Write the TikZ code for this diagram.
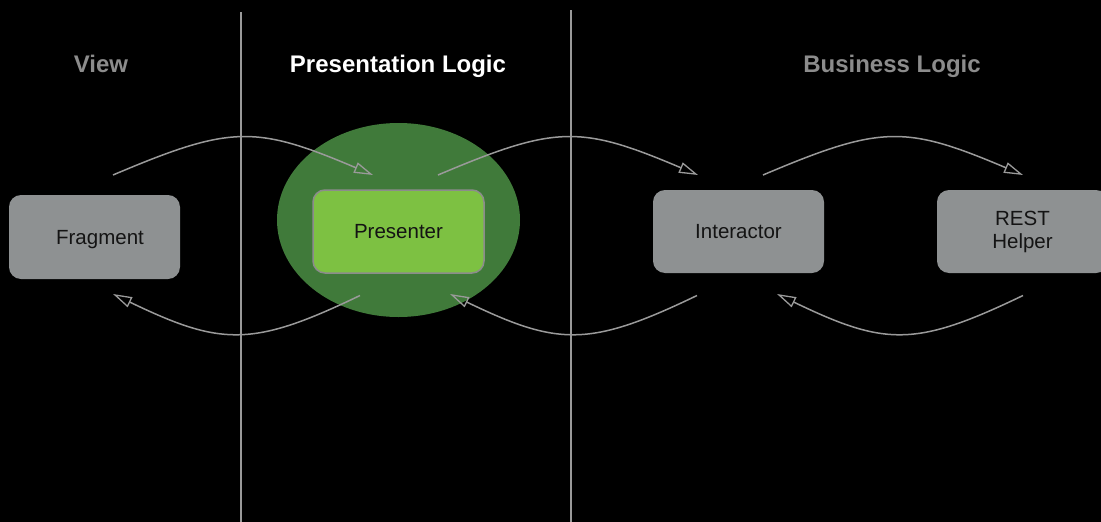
\documentclass[tikz,border=0pt]{standalone}
\usepackage{fontspec}
\setmainfont{Liberation Sans}
\usetikzlibrary{arrows.meta,shapes.geometric}
\definecolor{boxgray}{HTML}{8E9192}
\definecolor{linegray}{HTML}{9A9A9A}
\definecolor{headgray}{HTML}{8C8C8C}
\definecolor{darkgreen}{HTML}{407A3A}
\definecolor{lightgreen}{HTML}{7DC142}
\definecolor{textdark}{HTML}{141414}
\begin{document}
\begin{tikzpicture}[x=1pt,y=-1pt,
  box/.style={rectangle, rounded corners=12pt, fill=boxgray, minimum width=171pt, minimum height=84pt, inner sep=0pt, text=textdark, font=\fontsize{20.5}{23.3}\selectfont, align=center, text height=14.7pt, text depth=0pt},
  heading/.style={font=\fontsize{24}{28}\selectfont\bfseries, inner sep=0pt, anchor=base},
  divider/.style={draw=linegray, line width=1.4pt},
  flow/.style={draw=linegray, line width=1.5pt, -{Triangle[open, length=19pt, width=11pt, line width=1.3pt]}}]
\useasboundingbox (0,0) rectangle (1101,522);
\clip (0,0) rectangle (1101,522);
\fill[black] (0,0) rectangle (1101,522);
% dividers
\coordinate (d1t) at (241,12);
\coordinate (d1b) at (241,522);
\coordinate (d2t) at (571,10);
\coordinate (d2b) at (571,522);
\draw[divider] (d1t) -- (d1b);
\draw[divider] (d2t) -- (d2b);
% headings
\node[heading, text=headgray] (hview) at (101,72.5) {View};
\node[heading, text=white] (hpres) at (398,72.5) {Presentation Logic};
\node[heading, text=headgray] (hbus) at (892,72.5) {Business Logic};
% ellipse
\node[ellipse, fill=darkgreen, minimum width=243pt, minimum height=194pt, inner sep=0pt] (ell) at (398.5,220) {};
% boxes
\node[box] (frag) at (94.5,237) {\hspace{11pt}Fragment};
\node[box, fill=lightgreen, draw=headgray, line width=1.5pt, minimum height=83pt] (pres) at (398.5,231.5) {Presenter};
\node[box, minimum height=83pt] (inter) at (738.5,231.5) {Interactor};
\node[box, minimum height=83pt, text height=33.6pt] (rest) at (1022.5,231.5) {REST\\Helper};
% arrow end points
\coordinate (a1s) at (113,175);
\coordinate (a1e) at (373,175);
\coordinate (a2s) at (438,175);
\coordinate (a2e) at (698,175);
\coordinate (a3s) at (763,175);
\coordinate (a3e) at (1023,175);
\coordinate (b1s) at (360,295.5);
\coordinate (b1e) at (113,294);
\coordinate (b2s) at (697,295.5);
\coordinate (b2e) at (450,294);
\coordinate (b3s) at (1023,295.5);
\coordinate (b3e) at (777,294);
% top arrows
\draw[flow] (a1s) .. controls +(118,-50) and +(-118,-50) .. (a1e);
\draw[flow] (a2s) .. controls +(118,-50) and +(-118,-50) .. (a2e);
\draw[flow] (a3s) .. controls +(118,-50) and +(-118,-50) .. (a3e);
% bottom arrows
\draw[flow] (b1s) .. controls +(-108,52) and +(108,52) .. (b1e);
\draw[flow] (b2s) .. controls +(-108,52) and +(108,52) .. (b2e);
\draw[flow] (b3s) .. controls +(-108,52) and +(108,52) .. (b3e);
\end{tikzpicture}
\end{document}
